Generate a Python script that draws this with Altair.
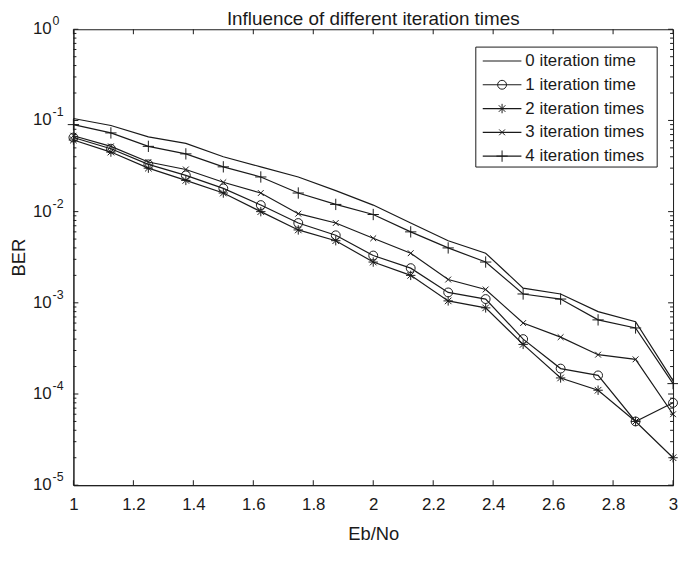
import altair as alt
import pandas as pd

# ---------------- data ----------------
eb_no = [1.0, 1.125, 1.25, 1.375, 1.5, 1.625, 1.75, 1.875, 2.0,
         2.125, 2.25, 2.375, 2.5, 2.625, 2.75, 2.875, 3.0]

series_names = ["0 iteration time", "1 iteration time", "2 iteration times",
                "3 iteration times", "4 iteration times"]

ber_0 = [0.105, 0.088, 0.066, 0.056, 0.040, 0.031, 0.024, 0.017, 0.0118,
         0.0075, 0.0048, 0.0035, 0.00145, 0.00125, 0.00080, 0.00062, 0.00014]
ber_1 = [0.065, 0.049, 0.033, 0.025, 0.018, 0.0118, 0.0075, 0.0055, 0.0033,
         0.0024, 0.0013, 0.0011, 0.00040, 0.00019, 0.00016, 0.00005, 0.00008]
ber_2 = [0.061, 0.045, 0.030, 0.022, 0.016, 0.0100, 0.0063, 0.0048, 0.0028,
         0.0020, 0.00105, 0.00088, 0.00035, 0.00015, 0.00011, 0.00005, 0.00002]
ber_3 = [0.068, 0.052, 0.035, 0.029, 0.021, 0.016, 0.0095, 0.0075, 0.0051,
         0.0035, 0.0018, 0.0014, 0.00060, 0.00042, 0.00027, 0.00024, 0.00006]
ber_4 = [0.090, 0.073, 0.052, 0.043, 0.031, 0.024, 0.016, 0.012, 0.0093,
         0.0060, 0.0040, 0.0028, 0.00125, 0.0011, 0.00065, 0.00053, 0.00013]

x_ticks = [1.0, 1.2, 1.4, 1.6, 1.8, 2.0, 2.2, 2.4, 2.6, 2.8, 3.0]
y_exponents = [0, -1, -2, -3, -4, -5]
chart_title = "Influence of different iteration times"

# ---------------- styling ----------------
W, H = 605, 460
INK = "#1a1a1a"
FONT = "Liberation Sans"

marker_shapes = [
    None,
    "circle",
    "M-1,0L1,0M0,-1L0,1M-0.7,-0.7L0.7,0.7M-0.7,0.7L0.7,-0.7",
    "M-0.7,-0.7L0.7,0.7M-0.7,0.7L0.7,-0.7",
    "M-1,0L1,0M0,-1L0,1",
]
marker_sizes = [0, 80, 90, 70, 130]

all_ber = [ber_0, ber_1, ber_2, ber_3, ber_4]

xs = alt.Scale(domain=[1, 3], nice=False, zero=False)
ys = alt.Scale(type="log", domain=[1e-5, 1], nice=False)

x_axis = alt.Axis(title="Eb/No", values=x_ticks, format="~g",
                  ticks=False, tickSize=0, grid=False,
                  labelPadding=12, labelFontSize=17,
                  labelColor=INK, titleFontSize=18.5,
                  titleFontWeight="normal", titleColor=INK,
                  titlePadding=12, domainColor=INK, labelFlush=False)
y_axis = alt.Axis(title="BER", labels=False, ticks=False, tickSize=0,
                  grid=False, titleFontSize=18.5,
                  titleFontWeight="normal", titleColor=INK,
                  titlePadding=45, domainColor=INK)

rows = []
for name, vals in zip(series_names, all_ber):
    for xv, yv in zip(eb_no, vals):
        rows.append({"series": name, "ebno": xv, "ber": yv})
df = pd.DataFrame(rows)

layers = []

lines = alt.Chart(df).mark_line(color=INK, strokeWidth=1.2).encode(
    x=alt.X("ebno:Q", scale=xs, axis=x_axis),
    y=alt.Y("ber:Q", scale=ys, axis=y_axis),
    detail="series:N",
)
layers.append(lines)

# markers
for name, shape, size in zip(series_names, marker_shapes, marker_sizes):
    if shape is None:
        continue
    sub = df[df["series"] == name]
    pts = alt.Chart(sub).mark_point(shape=shape, filled=False, size=size,
                                    stroke=INK, strokeWidth=1, opacity=1).encode(
        x=alt.X("ebno:Q", scale=xs, axis=x_axis),
        y=alt.Y("ber:Q", scale=ys, axis=y_axis),
    )
    layers.append(pts)

# inward ticks (MATLAB style)
xt = pd.DataFrame({"ebno": x_ticks})
for y0, y1 in [(H, H - 5), (0, 5)]:
    layers.append(alt.Chart(xt).mark_rule(color=INK, strokeWidth=1).encode(
        x=alt.X("ebno:Q", scale=xs, axis=x_axis),
        y=alt.value(y0), y2=alt.value(y1)))

major = pd.DataFrame({"ber": [10.0 ** e for e in y_exponents]})
minor_vals = []
for e in y_exponents[1:]:
    for m in range(2, 10):
        minor_vals.append(m * 10.0 ** e)
minor = pd.DataFrame({"ber": minor_vals})
for data, ln in [(major, 5), (minor, 3)]:
    for x0, x1 in [(0, ln), (W, W - ln)]:
        layers.append(alt.Chart(data).mark_rule(color=INK, strokeWidth=1).encode(
            y=alt.Y("ber:Q", scale=ys, axis=y_axis),
            x=alt.value(x0), x2=alt.value(x1)))

# y tick labels as 10 with superscript exponent
ylab = pd.DataFrame({"ber": [10.0 ** e for e in y_exponents],
                     "base": ["10"] * len(y_exponents),
                     "exp": [str(e) for e in y_exponents]})
layers.append(alt.Chart(ylab).mark_text(align="right", baseline="middle",
                                        fontSize=17, color=INK, font=FONT).encode(
    y=alt.Y("ber:Q", scale=ys, axis=y_axis), x=alt.value(-22), text="base:N"))
layers.append(alt.Chart(ylab).mark_text(align="left", baseline="middle",
                                        fontSize=12.5, color=INK, font=FONT, dy=-8).encode(
    y=alt.Y("ber:Q", scale=ys, axis=y_axis), x=alt.value(-21), text="exp:N"))

# title as a text mark centred over the plot
one = pd.DataFrame({"k": [0]})
layers.append(alt.Chart(one).mark_text(align="center", baseline="middle",
                                       fontSize=19, color=INK, font=FONT).encode(
    x=alt.value(W / 2), y=alt.value(-10), text=alt.value(chart_title)))

# legend (manual, MATLAB style)
LX0, LX1, LY0, LY1 = 406, 589, 18, 139
layers.append(alt.Chart(one).mark_rect(fill="white", stroke=INK, strokeWidth=1).encode(
    x=alt.value(LX0), x2=alt.value(LX1), y=alt.value(LY0), y2=alt.value(LY1)))
for i, (name, shape, size) in enumerate(zip(series_names, marker_shapes, marker_sizes)):
    ly = 32 + 24 * i
    layers.append(alt.Chart(one).mark_rule(color=INK, strokeWidth=1.2).encode(
        x=alt.value(413), x2=alt.value(452), y=alt.value(ly)))
    if shape is not None:
        layers.append(alt.Chart(one).mark_point(shape=shape, filled=False, size=size,
                                                stroke=INK, strokeWidth=1, opacity=1).encode(
            x=alt.value(432.5), y=alt.value(ly)))
    layers.append(alt.Chart(one).mark_text(align="left", baseline="middle",
                                           fontSize=17, color=INK, font=FONT).encode(
        x=alt.value(456), y=alt.value(ly), text=alt.value(name)))

chart = alt.layer(*layers).properties(
    width=W, height=H,
    autosize=alt.AutoSizeParams(type="none"),
    padding={"left": 66, "top": 19, "right": 5, "bottom": 70},
).configure(font=FONT).configure_view(stroke=INK, strokeWidth=1)

chart.save("out.html", embed_options={"renderer": "svg", "actions": False})
